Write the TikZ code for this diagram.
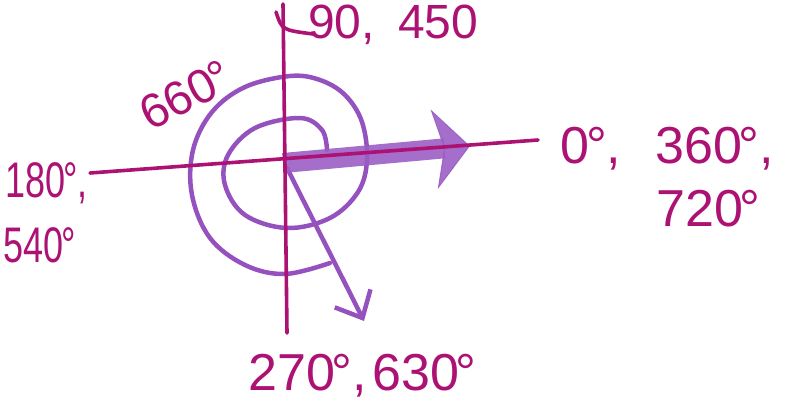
\documentclass[tikz,border=0pt]{standalone}
\usepackage{fontspec}
\setmainfont{Liberation Sans}
\usetikzlibrary{arrows.meta}
\definecolor{mag}{HTML}{AC1273}
\definecolor{purp}{HTML}{9552BE}
\definecolor{purpfill}{HTML}{9A5EC4}
\newcommand{\dg}{\kern-0.06em°}
\begin{document}
\begin{tikzpicture}[x=1pt,y=-1pt,
  axis/.style={draw=mag, line width=3.6pt, line cap=round},
  spir/.style={draw=purp, line width=4.5pt, line cap=round, line join=round},
  lbl/.style={text=mag, inner sep=0pt, anchor=base west, font=\fontsize{52}{60}\selectfont},
  lbll/.style={lbl, xscale=0.72, transform shape, font=\fontsize{50}{60}\selectfont}]
\useasboundingbox (0,0) rectangle (787,405);
% coordinates
\coordinate (vtop) at (283,4);
\coordinate (vbot) at (287,333);
\coordinate (hl) at (90,173);
\coordinate (hr) at (538,140);
\coordinate (bigstart) at (283,163);
\coordinate (bigtip) at (470,146);
\coordinate (smallstart) at (287,168);
\coordinate (smalltip) at (364,321);
\coordinate (hookA) at (276,12);
\coordinate (hookB) at (313,34);
% spiral
\draw[spir] plot[smooth, tension=0.6] coordinates {
 (327,150) (322,130) (300,118) (255,128) (228,155) (225,185) (245,215)
 (287,228) (330,218) (358,192) (367,160) (362,122) (345,95) (320,80)
 (290,76) (245,87) (212,112) (193,150) (192,195) (210,238) (245,265)
 (285,274) (330,263)};
% thin arrow
\draw[spir, -{Straight Barb[length=22pt,width=40pt]}] (smallstart) -- (smalltip);
% thick arrow
\draw[purpfill, opacity=0.9, line width=20pt,
  -{Stealth[length=36pt,width=80pt,inset=10pt,line width=1pt]}] (bigstart) -- (bigtip);
% axes
\draw[axis] (vtop) -- (vbot);
\draw[axis] (hl) -- (hr);
\draw[axis] (hookA) .. controls (282,30) .. (hookB);
% labels
\node[lbl, font=\fontsize{48}{56}\selectfont] (t90) at (308,38) {90,};
\node[lbl, font=\fontsize{48}{56}\selectfont] (t450) at (398,38) {450};
\node[lbl, rotate=27, font=\fontsize{48}{56}\selectfont] (t660) at (150,132) {660\dg};
\node[lbll] (t180) at (5,197) {180\dg,};
\node[lbll] (t540) at (3,262) {540\dg};
\node[lbl] (t0) at (560,163) {0\dg,};
\node[lbl] (t360) at (655,163) {360\dg,};
\node[lbl] (t720) at (656,226) {720\dg};
\node[lbl] (t270) at (248,390) {270\dg,};
\node[lbl] (t630) at (372,390) {630\dg};
\end{tikzpicture}
\end{document}
